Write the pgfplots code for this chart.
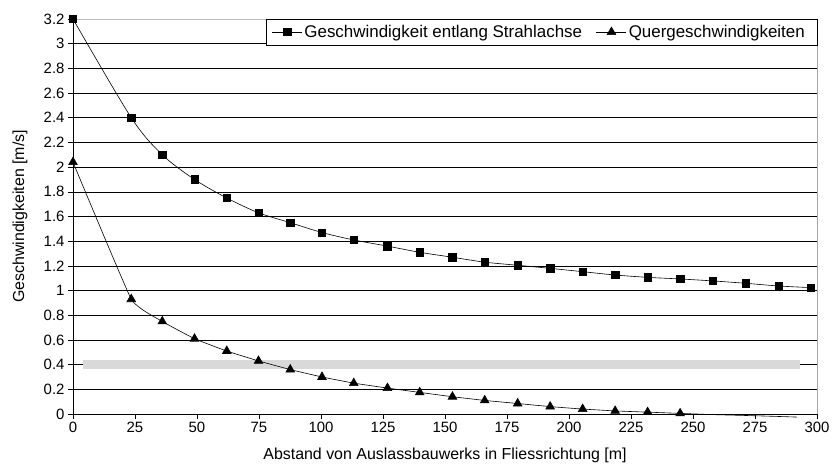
\documentclass[border=0pt]{standalone}
\usepackage{fontspec}
\setmainfont{Liberation Sans}
\usepackage{pgfplots}
\pgfplotsset{compat=1.18}
\begin{document}
\begin{tikzpicture}
\useasboundingbox (-73bp,-59bp) rectangle (761bp,414bp);
\begin{axis}[
  at={(0,0)}, anchor=south west, scale only axis,
  width=744bp, height=395bp,
  xmin=0, xmax=300, ymin=0, ymax=3.2, clip=false,
  axis x line*=bottom, axis y line*=left,
  axis line style={-, black, line width=0.8bp},
  xtick={0,25,50,75,100,125,150,175,200,225,250,275,300},
  ytick={0,0.2,0.4,0.6,0.8,1,1.2,1.4,1.6,1.8,2,2.2,2.4,2.6,2.8,3},
  extra y ticks={3.2},
  extra y tick style={grid=major, major grid style={gray!55, line width=0.8bp}},
  ymajorgrids, major grid style={black, line width=0.6bp},
  tick align=outside, major tick length=5bp, tick style={black, line width=0.6bp},
  ticklabel style={font=\fontsize{15}{18}\selectfont},
  /pgf/number format/assume math mode=true,
  xlabel={Abstand von Auslassbauwerks in Fliessrichtung [m]},
  ylabel={Geschwindigkeiten [m/s]},
  every axis x label/.style={at={(axis description cs:0.5,0)}, yshift=-41bp, anchor=center, font=\fontsize{16}{19}\selectfont},
  every axis y label/.style={at={(axis description cs:0,0.5)}, xshift=-53bp, rotate=90, anchor=center, font=\fontsize{16}{19}\selectfont},
  legend columns=2,
  legend style={at={(rel axis cs:1,1)}, anchor=north east, draw=black, fill=white,
    font=\fontsize{17}{19}\selectfont, inner xsep=6bp, inner ysep=4bp},
  legend image code/.code={\draw (0bp,0bp) -- (30bp,0bp); \draw[mark indices={1}] plot coordinates {(15bp,0bp)};},
]
\addplot[gray!30, line width=9bp, forget plot] coordinates {(4,0.4) (293,0.4)};
\addplot[black, line width=0.6bp, smooth, mark=square*, mark size=3.7bp, mark options={solid}] coordinates {
(0,3.2) (23.5,2.4) (36,2.1) (49,1.9) (62,1.75) (74.8,1.63) (87.6,1.55) (100.4,1.47)
(113.2,1.41) (126.8,1.36) (139.8,1.31) (153,1.27) (166,1.23) (179.3,1.205) (192.4,1.18)
(205.5,1.153) (218.6,1.126) (231.7,1.107) (244.8,1.094) (258,1.078) (271.2,1.059)
(284.5,1.037) (297.5,1.024)};
\addlegendentry{Geschwindigkeit entlang Strahlachse\rule{12bp}{0pt}}
\addplot[black, line width=0.6bp, smooth, tension=0.2, mark=triangle*, mark size=5bp, mark indices={1,...,19}, mark options={solid}] coordinates {
(0,2.04) (23.5,0.93) (36,0.75) (49,0.61) (62,0.51) (74.8,0.43) (87.6,0.36) (100.4,0.30)
(113.2,0.25) (126.8,0.21) (139.8,0.175) (153,0.14) (166,0.11) (179.3,0.085) (192.4,0.06)
(205.5,0.04) (218.6,0.025) (231.7,0.015) (244.8,0.005) (258,-0.005) (271.2,-0.012)
(284.5,-0.02) (292,-0.025)};
\addlegendentry{Quergeschwindigkeiten\rule{4bp}{0pt}}
\draw[gray!70, line width=0.8bp] (rel axis cs:1,0) -- (rel axis cs:1,1);
\end{axis}
\end{tikzpicture}
\end{document}
